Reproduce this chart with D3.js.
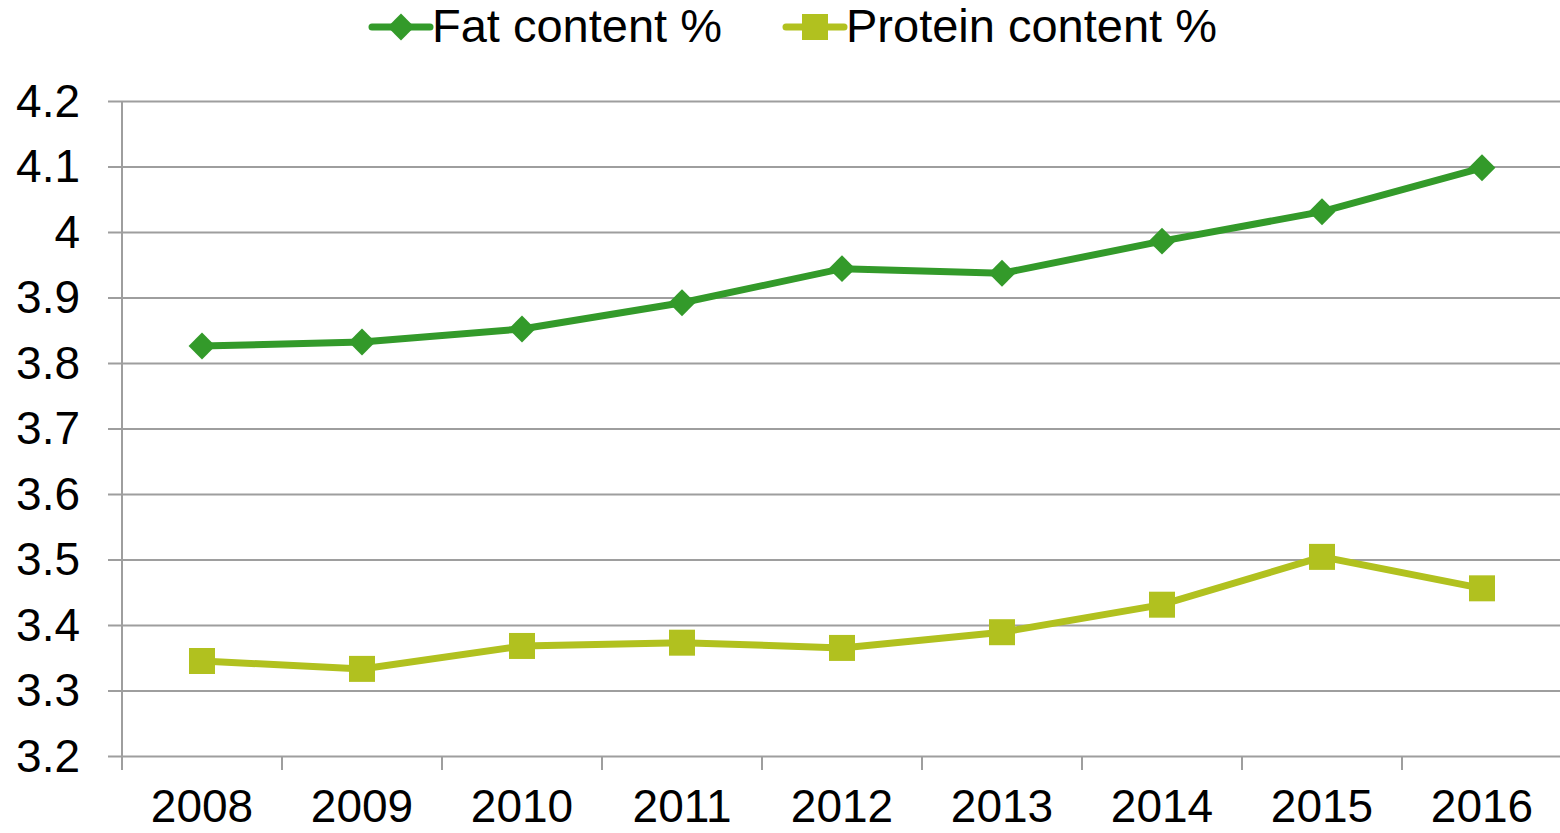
<!DOCTYPE html>
<html>
<head>
<meta charset="utf-8">
<script src="https://cdn.jsdelivr.net/npm/d3@7"></script>
<style>
  body { margin: 0; background: #fff; }
  svg text { font-family: "Liberation Sans", Arial, sans-serif; fill: #000; }
</style>
</head>
<body>
<div id="chart"></div>
<script>
// data
var years = ["2008", "2009", "2010", "2011", "2012", "2013", "2014", "2015", "2016"];
var fat = [3.826, 3.832, 3.852, 3.892, 3.944, 3.937, 3.986, 4.031, 4.098];
var protein = [3.345, 3.333, 3.368, 3.373, 3.365, 3.389, 3.431, 3.504, 3.456];
var yTicks = [3.2, 3.3, 3.4, 3.5, 3.6, 3.7, 3.8, 3.9, 4, 4.1, 4.2];
var seriesNames = ["Fat content %", "Protein content %"];
var colors = ["#339a2a", "#b1c11f"];

var W = 1560, H = 833;
var margin = { top: 101, right: -2, bottom: 77, left: 122 };
var width = W - margin.left - margin.right,
    height = H - margin.top - margin.bottom;

var svg = d3.select("#chart").append("svg")
    .attr("width", W)
    .attr("height", H)
    .append("g")
    .attr("transform", "translate(" + margin.left + "," + margin.top + ")");

var x = d3.scaleBand().domain(years).range([0, width]);
var y = d3.scaleLinear().domain([3.2, 4.2]).range([height, 0]);

// gridlines + y labels
var yAxis = svg.append("g")
    .call(d3.axisLeft(y).tickValues(yTicks).tickSize(-width - 14).tickSizeOuter(0)
        .tickFormat(function (d) { return d3.format("")(+d.toFixed(1)); }))
    .attr("transform", "translate(-14,0)");
yAxis.select(".domain").remove();
yAxis.selectAll("line").attr("stroke", "#9e9e9e").attr("stroke-width", 2);
yAxis.selectAll("text").attr("x", -28).attr("dy", "0.33em").style("font-size", "46px");

// vertical axis line
svg.append("line")
    .attr("x1", 0).attr("x2", 0)
    .attr("y1", 0).attr("y2", height + 14)
    .attr("stroke", "#9e9e9e").attr("stroke-width", 2);

// x axis
var xAxis = svg.append("g")
    .attr("transform", "translate(0," + height + ")")
    .call(d3.axisBottom(x).tickSize(0));
xAxis.select(".domain").remove();
xAxis.selectAll("text").attr("y", 66).attr("dy", null).style("font-size", "46px");
xAxis.selectAll(".sep")
    .data(d3.range(years.length + 1))
    .enter().append("line")
    .attr("x1", function (i) { return i * x.step(); })
    .attr("x2", function (i) { return i * x.step(); })
    .attr("y1", 0).attr("y2", 14)
    .attr("stroke", "#9e9e9e").attr("stroke-width", 2);

var line = d3.line()
    .x(function (d, i) { return x(years[i]) + x.bandwidth() / 2; })
    .y(function (d) { return y(d); });

var diamond = d3.symbol().type(d3.symbolSquare).size(19 * 19);
var square = d3.symbol().type(d3.symbolSquare).size(26 * 26);

// fat series
svg.append("path").datum(fat)
    .attr("d", line).attr("fill", "none")
    .attr("stroke", colors[0]).attr("stroke-width", 7);
svg.selectAll(".fatpt").data(fat).enter().append("path")
    .attr("d", diamond)
    .attr("transform", function (d, i) {
        return "translate(" + (x(years[i]) + x.bandwidth() / 2) + "," + y(d) + ") rotate(45)";
    })
    .attr("fill", colors[0]);

// protein series
svg.append("path").datum(protein)
    .attr("d", line).attr("fill", "none")
    .attr("stroke", colors[1]).attr("stroke-width", 7);
svg.selectAll(".protpt").data(protein).enter().append("path")
    .attr("d", square)
    .attr("transform", function (d, i) {
        return "translate(" + (x(years[i]) + x.bandwidth() / 2) + "," + y(d) + ")";
    })
    .attr("fill", colors[1]);

// legend
var legend = d3.select("svg").append("g");
var legendX = [372, 786];
seriesNames.forEach(function (name, i) {
    var g = legend.append("g").attr("transform", "translate(" + legendX[i] + ",27)");
    g.append("line").attr("x1", 0).attr("x2", 58)
        .attr("stroke", colors[i]).attr("stroke-width", 7).attr("stroke-linecap", "round");
    g.append("path")
        .attr("d", i === 0 ? diamond : square)
        .attr("transform", "translate(29,0)" + (i === 0 ? " rotate(45)" : ""))
        .attr("fill", colors[i]);
    g.append("text").attr("x", 60).attr("y", 15).style("font-size", "47px").text(name);
});
</script>
</body>
</html>
